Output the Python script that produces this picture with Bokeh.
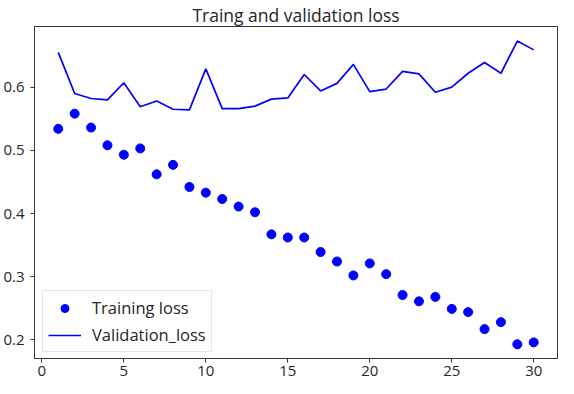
from bokeh.plotting import figure
from bokeh.models import Range1d, FixedTicker, Legend, LegendItem
from bokeh.embed import file_html
from bokeh.resources import INLINE

epochs = list(range(1, 31))
training_loss = [0.534, 0.558, 0.536, 0.508, 0.493, 0.503, 0.462, 0.477, 0.442, 0.433,
                 0.423, 0.411, 0.402, 0.367, 0.362, 0.362, 0.339, 0.324, 0.302, 0.321,
                 0.304, 0.271, 0.261, 0.268, 0.249, 0.244, 0.217, 0.228, 0.193, 0.196]
validation_loss = [0.655, 0.590, 0.582, 0.580, 0.607, 0.569, 0.578, 0.565, 0.564, 0.629,
                   0.566, 0.566, 0.570, 0.581, 0.583, 0.620, 0.594, 0.606, 0.636, 0.593,
                   0.597, 0.625, 0.621, 0.592, 0.600, 0.622, 0.639, 0.622, 0.673, 0.659]
x_ticks = [0, 5, 10, 15, 20, 25, 30]
y_ticks = [0.2, 0.3, 0.4, 0.5, 0.6]

FONT = "Open Sans"
TXT = "#262626"

p = figure(width=558, height=378, output_backend="svg", toolbar_location=None,
           x_range=Range1d(-0.45, 31.45), y_range=Range1d(0.1705, 0.696),
           title="Traing and validation loss",
           min_border_left=34, min_border_right=1, min_border_top=0, min_border_bottom=10)

p.title.align = "center"
p.title.text_font = FONT
p.title.text_font_size = "17.5px"
p.title.text_font_style = "normal"
p.title.text_color = TXT
p.title.text_line_height = 0.75
p.title.offset = 0
p.title.standoff = 0

p.xgrid.visible = False
p.ygrid.visible = False
p.outline_line_color = "#333333"
p.outline_line_width = 1
p.background_fill_color = "white"
p.border_fill_color = "white"

for ax in (p.xaxis[0], p.yaxis[0]):
    ax.axis_line_color = "#333333"
    ax.major_tick_line_color = "#333333"
    ax.major_tick_out = 4
    ax.major_tick_in = 0
    ax.minor_tick_out = 0
    ax.minor_tick_in = 0
    ax.major_label_text_font = FONT
    ax.major_label_text_font_size = "15px"
    ax.major_label_text_color = TXT

p.xaxis[0].major_label_text_line_height = 0.75
p.xaxis[0].major_label_standoff = 3
p.yaxis[0].major_label_standoff = 6
p.xaxis[0].ticker = FixedTicker(ticks=x_ticks)
p.yaxis[0].ticker = FixedTicker(ticks=y_ticks)

r_train = p.scatter(epochs, training_loss, size=9, marker="circle",
                    fill_color="blue", line_color="blue", line_width=1)
r_val = p.line(epochs, validation_loss, line_color="blue", line_width=1.7)

legend = Legend(items=[LegendItem(label="Training loss", renderers=[r_train]),
                       LegendItem(label="Validation_loss", renderers=[r_val])],
                location=(8, 6), margin=0, padding=5, spacing=4,
                label_height=20, glyph_height=20, glyph_width=33, label_standoff=11,
                label_text_font=FONT, label_text_font_size="16.5px", label_text_color=TXT,
                border_line_color="#cccccc", border_line_width=1,
                background_fill_color="white", background_fill_alpha=0.8)
p.add_layout(legend, "center")

open("out.html", "w").write(file_html(p, INLINE))
